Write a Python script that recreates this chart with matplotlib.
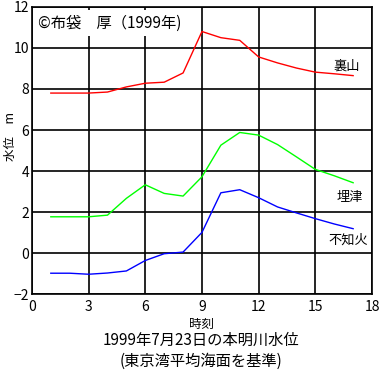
import matplotlib.pyplot as plt

plt.rcParams['font.family'] = ['Noto Sans CJK JP', 'DejaVu Sans']

# 時刻
jikoku = [1, 2, 3, 4, 5, 6, 7, 8, 9, 10, 11, 12, 13, 14, 15, 16, 17]

# 水位 (m)
urayama = [7.8, 7.8, 7.8, 7.85, 8.1, 8.28, 8.33, 8.78, 10.8, 10.5, 10.37, 9.56, 9.27, 9.02, 8.82, 8.74, 8.65]
umetsu = [1.77, 1.77, 1.77, 1.85, 2.67, 3.33, 2.91, 2.78, 3.72, 5.26, 5.88, 5.75, 5.29, 4.69, 4.08, 3.77, 3.43]
shiranui = [-0.98, -0.98, -1.03, -0.97, -0.87, -0.36, -0.03, 0.05, 1.01, 2.94, 3.09, 2.70, 2.25, 1.96, 1.68, 1.42, 1.19]

xticks = [0, 3, 6, 9, 12, 15, 18]
yticks = [-2, 0, 2, 4, 6, 8, 10, 12]

fig = plt.figure(figsize=(3.8, 3.83), dpi=100)
ax = fig.add_axes([0.084, 0.232, 0.895, 0.75])

ax.plot(jikoku, urayama, color='red', lw=1)
ax.plot(jikoku, umetsu, color='lime', lw=1)
ax.plot(jikoku, shiranui, color='blue', lw=1)

ax.set_xlim(0, 18)
ax.set_ylim(-2, 12)
ax.set_xticks(xticks)
ax.set_yticks(yticks)
ax.grid(True, color='black', lw=1.2)
ax.tick_params(length=0, labelsize=10)
ax.tick_params(axis='x', pad=4)
ax.tick_params(axis='y', pad=2)
for s in ax.spines.values():
    s.set_linewidth(1.2)

# 地点名
ax.text(15.95, 8.95, '裏山', fontsize=9.5)
ax.text(16.1, 2.55, '埋津', fontsize=9.5)
ax.text(15.7, 0.45, '不知火', fontsize=9.5)

ax.text(0.3, 11.0, '©布袋\u3000厚（1999年)', fontsize=11, zorder=5,
        bbox=dict(facecolor='white', edgecolor='none', pad=3))

ax.set_ylabel('水位\u3000m', fontsize=9, va='center')
ax.yaxis.set_label_coords(-0.064, 0.55)
ax.set_xlabel('時刻', fontsize=9, labelpad=3)

fig.text(0.53, 0.1, '1999年7月23日の本明川水位', ha='center', fontsize=11)
fig.text(0.53, 0.045, '(東京湾平均海面を基準)', ha='center', fontsize=11)

fig.savefig('out.png', dpi=100)
